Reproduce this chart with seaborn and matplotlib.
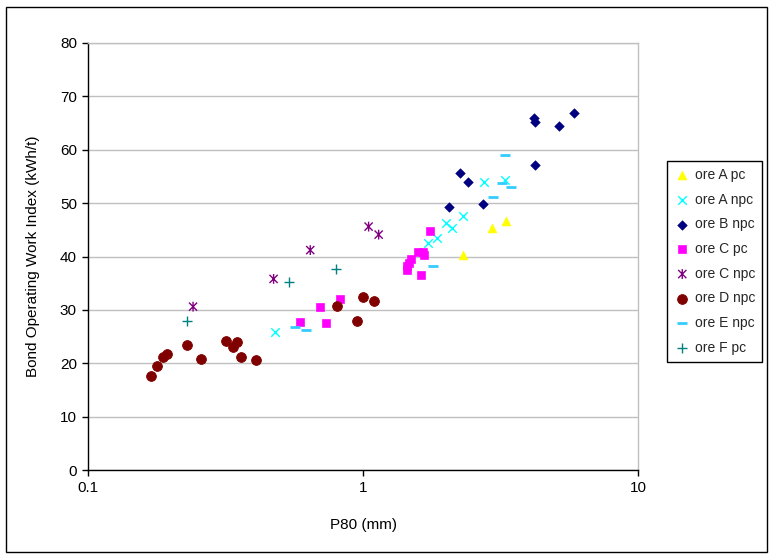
import numpy as np
import pandas as pd
import matplotlib.pyplot as plt
import seaborn as sns
from matplotlib.path import Path
from matplotlib.patches import Rectangle

# P80 (mm) and Bond operating work index (kWh/t), one pair of lists per ore
a_pc_p80 = [2.31, 2.94, 3.31]
a_pc_wi = [40.3, 45.3, 46.6]

a_npc_p80 = [0.48, 1.72, 1.86, 2.00, 2.11, 2.31, 2.75, 3.27]
a_npc_wi = [25.9, 42.6, 43.5, 46.2, 45.4, 47.6, 54.0, 54.4]

b_npc_p80 = [2.06, 2.26, 2.40, 2.72, 4.17, 4.23, 4.21, 5.17, 5.86]
b_npc_wi = [49.3, 55.7, 54.0, 49.8, 65.9, 65.2, 57.1, 64.4, 66.8]

c_pc_p80 = [0.592, 0.70, 0.731, 0.827, 1.44, 1.45, 1.47, 1.50, 1.59, 1.65, 1.66, 1.63, 1.75]
c_pc_wi = [27.7, 30.6, 27.5, 32.1, 37.5, 38.2, 38.8, 39.6, 40.9, 40.9, 40.3, 36.5, 44.8]

c_npc_p80 = [0.241, 0.473, 0.643, 1.048, 1.14]
c_npc_wi = [30.6, 35.8, 41.2, 45.6, 44.1]

d_npc_p80 = [0.170, 0.178, 0.188, 0.194, 0.229, 0.258, 0.318, 0.338, 0.348, 0.360, 0.409,
             0.804, 0.951, 0.997, 1.10]
d_npc_wi = [17.7, 19.5, 21.2, 21.7, 23.5, 20.8, 24.2, 23.1, 23.9, 21.2, 20.6,
            30.8, 28.0, 32.5, 31.7]

e_npc_p80 = [0.568, 0.622, 1.80, 2.97, 3.20, 3.45, 3.27]
e_npc_wi = [26.8, 26.3, 38.2, 51.2, 53.8, 53.1, 59.0]

f_pc_p80 = [0.230, 0.536, 0.798]
f_pc_wi = [27.9, 35.3, 37.6]

series_names = ['ore A pc', 'ore A npc', 'ore B npc', 'ore C pc',
                'ore C npc', 'ore D npc', 'ore E npc', 'ore F pc']
series_p80 = [a_pc_p80, a_npc_p80, b_npc_p80, c_pc_p80, c_npc_p80, d_npc_p80, e_npc_p80, f_pc_p80]
series_wi = [a_pc_wi, a_npc_wi, b_npc_wi, c_pc_wi, c_npc_wi, d_npc_wi, e_npc_wi, f_pc_wi]

df = pd.concat([
    pd.DataFrame({'P80': p, 'BWI': w, 'Series': n})
    for n, p, w in zip(series_names, series_p80, series_wi)
], ignore_index=True)

# Excel style asterisk: an x with a vertical bar
star = Path([(-0.5, -0.5), (0.5, 0.5), (-0.5, 0.5), (0.5, -0.5), (0, -0.6), (0, 0.6)],
            [Path.MOVETO, Path.LINETO, Path.MOVETO, Path.LINETO, Path.MOVETO, Path.LINETO])

styles = {
    'ore A pc':  dict(color='#FFFF00', marker='^', s=40, edgecolor='#FFFF00'),
    'ore A npc': dict(color='#00FFFF', marker='x', s=38, linewidth=1.0),
    'ore B npc': dict(color='#000080', marker='D', s=24, edgecolor='#000080'),
    'ore C pc':  dict(color='#FF00FF', marker='s', s=34, edgecolor='#FF00FF'),
    'ore C npc': dict(color='#800080', marker=star, s=50, linewidth=1.0,
                      edgecolor='#800080', facecolor='none'),
    'ore D npc': dict(color='#800000', marker='o', s=50, edgecolor='#800000'),
    'ore E npc': dict(color='#33CCFF', marker='_', s=50, linewidth=2.0),
    'ore F pc':  dict(color='#008080', marker='+', s=45, linewidth=1.0),
}

sns.set_theme(style='white')
plt.rcParams['font.family'] = ['Liberation Sans', 'DejaVu Sans']

fig = plt.figure(figsize=(7.74, 5.58), dpi=100)
ax = fig.add_axes([88 / 774, 1 - 470 / 558, 550 / 774, 427 / 558])

for name in series_names:
    sns.scatterplot(data=df[df['Series'] == name], x='P80', y='BWI', ax=ax,
                    label=name, zorder=3, **styles[name])

ax.set_xscale('log')
ax.set_xlim(0.1, 10)
ax.set_ylim(0, 80)
ax.set_xticks([0.1, 1, 10])
ax.set_xticklabels(['0.1', '1', '10'])
ax.xaxis.set_minor_locator(plt.NullLocator())
ax.set_yticks(np.arange(0, 81, 10))
ax.tick_params(axis='both', direction='out', length=4, width=1, color='black',
               labelsize=11, labelcolor='black', bottom=True, left=True, pad=4)

ax.yaxis.grid(True, color='#c0c0c0', linewidth=1)
ax.xaxis.grid(False)
ax.set_axisbelow(True)
for side in ['left', 'bottom']:
    ax.spines[side].set_color('black')
    ax.spines[side].set_linewidth(1)
for side in ['top', 'right']:
    ax.spines[side].set_color('#c0c0c0')
    ax.spines[side].set_linewidth(1)

ax.set_xlabel('P80 (mm)', fontsize=11, color='black')
ax.set_ylabel('Bond Operating Work Index (kWh/t)', fontsize=11, color='black')
ax.xaxis.set_label_coords(0.5, -0.112)
ax.yaxis.set_label_coords(-0.087, 0.5)

leg = ax.legend(loc='upper left', bbox_to_anchor=(667 / 774, 1 - 161 / 558),
                bbox_transform=fig.transFigure, borderaxespad=0, fontsize=10,
                frameon=True, fancybox=False, edgecolor='black', framealpha=1,
                labelspacing=0.77, handletextpad=0.3, handlelength=1.2,
                borderpad=0.5)
leg.get_frame().set_linewidth(1)

# outer chart border
fig.patches.append(Rectangle((6 / 774, 6 / 558), 761 / 774, 545 / 558, fill=False,
                             edgecolor='black', linewidth=1, transform=fig.transFigure))

fig.savefig('out.png', dpi=100)
